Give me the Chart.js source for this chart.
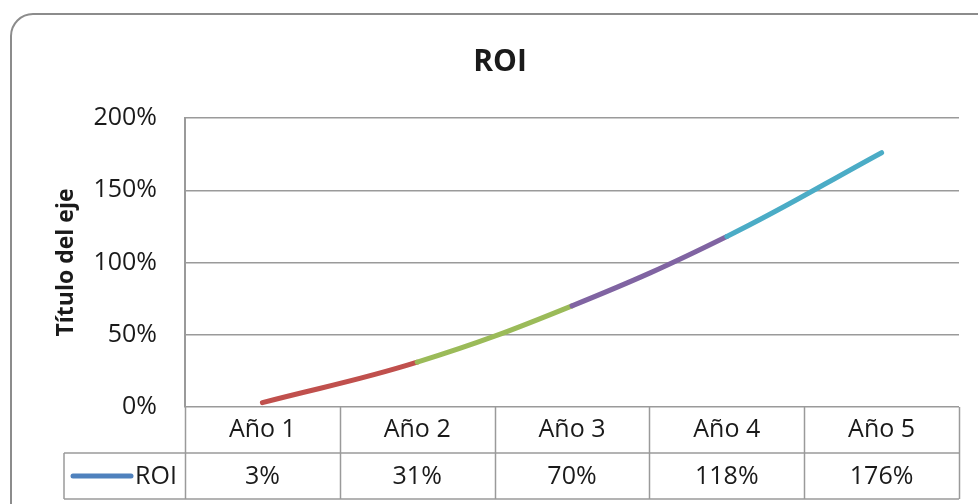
<!DOCTYPE html>
<html>
<head>
<meta charset="utf-8">
<script src="https://cdn.jsdelivr.net/npm/chart.js@4/dist/chart.umd.min.js"></script>
<style>
  html, body { margin: 0; padding: 0; background: #fff; }
  #wrap { width: 978px; height: 504px; }
</style>
</head>
<body>
<div id="wrap"><canvas id="myChart" width="978" height="504"></canvas></div>
<script>
const categories = ['Año 1', 'Año 2', 'Año 3', 'Año 4', 'Año 5']
const roiValues = [0.03, 0.31, 0.70, 1.18, 1.76]
const tickValues = [0, 0.5, 1, 1.5, 2]
const segmentColors = ['#C0504D', '#9BBB59', '#8064A2', '#4BACC6']
const seriesName = 'ROI'
const legendColor = '#4F81BD'

const FONT = "'Open Sans', sans-serif"
const TEXT = '#1a1a1a'
const LINE = '#9a9a9a'

// rounded frame around the whole chart
const framePlugin = {
    id: 'frame',
    beforeDraw(chart) {
        const ctx = chart.ctx
        ctx.save()
        ctx.fillStyle = '#fff'
        ctx.fillRect(0, 0, chart.width, chart.height)
        ctx.strokeStyle = '#8c8c8c'
        ctx.lineWidth = 2
        ctx.beginPath()
        ctx.roundRect(11, 14, 990, 530, 22)
        ctx.stroke()
        ctx.restore()
    }
}

// excel style data table under the plot
const tablePlugin = {
    id: 'dataTable',
    afterDraw(chart) {
        const ctx = chart.ctx
        const area = chart.chartArea
        const xs = chart.scales.x
        const w = area.width / categories.length
        const rowH = 46
        const y0 = area.bottom, y1 = y0 + rowH, y2 = y1 + rowH
        const legendLeft = 64

        ctx.save()
        ctx.strokeStyle = LINE
        ctx.lineWidth = 1.5
        ctx.beginPath()
        for (let i = 0; i <= categories.length; i++) {
            const x = Math.round(area.left + i * w) + 0.5
            ctx.moveTo(x, y0)
            ctx.lineTo(x, y2)
        }
        ctx.moveTo(legendLeft, y1)
        ctx.lineTo(legendLeft, y2)
        ctx.moveTo(legendLeft, y1)
        ctx.lineTo(area.right, y1)
        ctx.moveTo(legendLeft, y2)
        ctx.lineTo(area.right, y2)
        ctx.stroke()

        ctx.fillStyle = TEXT
        ctx.font = `25px ${FONT}`
        ctx.textAlign = 'center'
        ctx.textBaseline = 'middle'
        categories.forEach((c, i) => {
            const x = xs.getPixelForValue(i)
            ctx.fillText(c, x, (y0 + y1) / 2)
            ctx.fillText(Math.round(roiValues[i] * 100) + '%', x, (y1 + y2) / 2 + 1)
        })

        // legend key
        ctx.strokeStyle = legendColor
        ctx.lineWidth = 5
        ctx.lineCap = 'round'
        ctx.beginPath()
        ctx.moveTo(73, (y1 + y2) / 2)
        ctx.lineTo(131, (y1 + y2) / 2)
        ctx.stroke()
        ctx.textAlign = 'left'
        ctx.fillText(seriesName, 135, (y1 + y2) / 2 + 1)
        ctx.restore()
    }
}

new Chart(document.getElementById('myChart'), {
    type: 'line',
    data: {
        labels: categories,
        datasets: [{
            label: seriesName,
            data: roiValues,
            borderWidth: 5,
            borderCapStyle: 'round',
            borderColor: segmentColors[0],
            pointRadius: 0,
            tension: 0.4,
            segment: {
                borderColor: c => segmentColors[c.p0DataIndex]
            }
        }]
    },
    options: {
        responsive: false,
        animation: false,
        layout: {
            padding: { left: 41, right: 19, top: 44, bottom: 97 }
        },
        plugins: {
            legend: { display: false },
            tooltip: { enabled: false },
            title: {
                display: true,
                text: 'ROI',
                color: TEXT,
                font: { family: FONT, size: 30, weight: 'bold', lineHeight: 1.2 },
                padding: { top: 0, bottom: 38 }
            }
        },
        scales: {
            x: {
                display: false,
                offset: true
            },
            y: {
                min: 0,
                max: 2,
                afterFit: s => { s.width = 144 },
                afterBuildTicks: s => { s.ticks = tickValues.map(v => ({ value: v })) },
                border: { display: true, color: LINE, width: 2 },
                grid: { color: LINE, lineWidth: 1.5, drawTicks: false },
                ticks: {
                    padding: 28,
                    color: TEXT,
                    font: { family: FONT, size: 25 },
                    callback: v => Math.round(v * 100) + '%'
                },
                title: {
                    display: true,
                    text: 'Título del eje',
                    color: TEXT,
                    font: { family: FONT, size: 23, weight: 'bold', lineHeight: 1.2 },
                    padding: { top: 12, bottom: 0 }
                }
            }
        }
    },
    plugins: [framePlugin, tablePlugin]
})
</script>
</body>
</html>
